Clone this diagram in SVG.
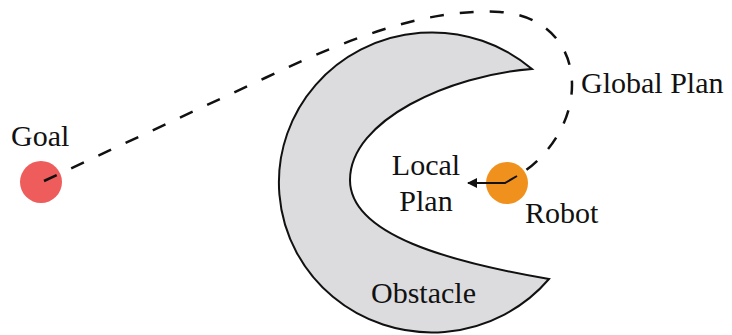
<svg xmlns="http://www.w3.org/2000/svg" width="732" height="335" viewBox="0 0 732 335">
<style>
text{font-family:"Liberation Serif","Times New Roman",serif;font-size:30px;fill:#111}
.dash{fill:none;stroke:#111;stroke-width:2.5;stroke-dasharray:14 16}
.solid{fill:none;stroke:#111;stroke-width:2}
</style>
<defs>
<marker id="ah" viewBox="0 0 10 10" refX="9" refY="5" markerWidth="5.5" markerHeight="5" orient="auto" markerUnits="strokeWidth">
<path d="M0,0 L10,5 L0,10 z" fill="#111"/>
</marker>
</defs>
<rect width="732" height="335" fill="#fff"/>
<g id="obstacle">
<path d="M532,69 C450,75 350,120 350,180 C350,235 450,262 549,279 A153 150 0 1 1 532,69 Z" fill="#dcdcde" stroke="#111" stroke-width="2"/>
<text x="371" y="303">Obstacle</text>
</g>
<g id="goal">
<circle cx="41" cy="182" r="21" fill="#ee5c5c"/>
<text x="11" y="146">Goal</text>
</g>
<g id="robot">
<circle cx="507" cy="183" r="21" fill="#f0911e"/>
<text x="525" y="223">Robot</text>
</g>
<g id="connectors">
<path class="dash" d="M44,181 L265,78 C357,34 432,8 500,12 C545,15 572,45 572,85 C572,125 545,160 517,176"/>
<path class="solid" d="M517,176 L505,183 L468,183" marker-end="url(#ah)"/>
</g>
<g id="labels">
<text x="581" y="93">Global Plan</text>
<text x="426" y="175" text-anchor="middle">Local</text>
<text x="426" y="211" text-anchor="middle">Plan</text>
</g>
</svg>
